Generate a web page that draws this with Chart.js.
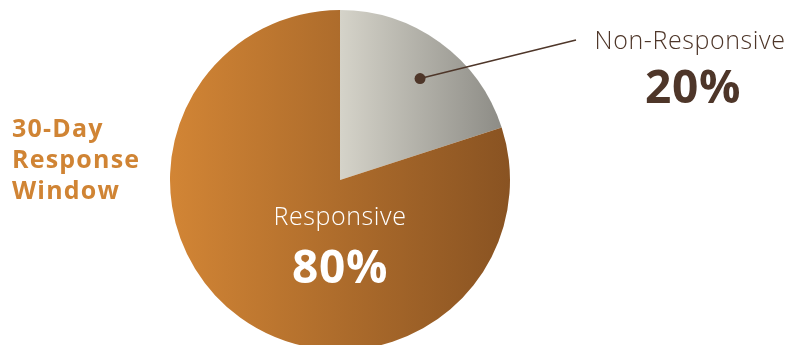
<!DOCTYPE html>
<html>
<head>
<meta charset="utf-8">
<script src="https://cdn.jsdelivr.net/npm/chart.js@4/dist/chart.umd.min.js"></script>
<style>
  html, body { margin: 0; padding: 0; background: #fff; overflow: hidden; }
  #wrap { width: 792px; height: 360px; position: relative; }
</style>
</head>
<body>
<div id="wrap"><canvas id="responseChart"></canvas></div>
<script>
const labels = [ 'Non-Responsive', 'Responsive' ]
const values = [ 20, 80 ]
const titleLines = [ '30-Day', 'Response', 'Window' ]

const brown = '#4e3629'
const orange = '#d08434'

function sliceFill( context ) {
  const chart = context.chart
  const area = chart.chartArea
  if ( !area ) return null
  const ctx = chart.ctx
  const cx = ( area.left + area.right ) / 2
  let g
  if ( context.dataIndex === 0 ) {
    g = ctx.createLinearGradient( cx, 0, area.right - 8, 0 )
    g.addColorStop( 0, '#d5d3c9' )
    g.addColorStop( 1, '#8d8c86' )
  } else {
    g = ctx.createLinearGradient( area.left, 0, area.right, 0 )
    g.addColorStop( 0, '#d28535' )
    g.addColorStop( 1, '#895322' )
  }
  return g
}

const labelPlugin = {
  id: 'pieLabels',
  afterDraw( chart ) {
    const ctx = chart.ctx
    const arcs = chart.getDatasetMeta( 0 ).data
    const a = chart.chartArea
    const cx = ( a.left + a.right ) / 2
    const cy = ( a.top + a.bottom ) / 2
    ctx.save()

    // leader for the small slice
    const small = arcs[ 0 ]
    const mid = ( small.startAngle + small.endAngle ) / 2 + 0.04
    const r = small.outerRadius * 0.76
    const dx = cx + Math.cos( mid ) * r
    const dy = cy + Math.sin( mid ) * r
    ctx.strokeStyle = brown
    ctx.fillStyle = brown
    ctx.lineWidth = 1.5
    ctx.beginPath()
    ctx.moveTo( dx, dy )
    ctx.lineTo( 576, 40 )
    ctx.stroke()
    ctx.beginPath()
    ctx.arc( dx, dy, 5.5, 0, Math.PI * 2 )
    ctx.fill()

    ctx.textAlign = 'center'
    ctx.textBaseline = 'middle'
    ctx.letterSpacing = '0.6px'
    ctx.font = '300 25px "Open Sans"'
    ctx.fillText( labels[ 0 ], 690, 42 )
    ctx.font = 'bold 46px "Open Sans"'
    ctx.fillText( values[ 0 ] + '%', 693, 90 )

    ctx.fillStyle = '#ffffff'
    ctx.font = '300 25px "Open Sans"'
    ctx.fillText( labels[ 1 ], cx, cy + 38 )
    ctx.font = 'bold 46px "Open Sans"'
    ctx.fillText( values[ 1 ] + '%', cx, cy + 90 )

    ctx.textAlign = 'left'
    ctx.fillStyle = orange
    ctx.letterSpacing = '1.2px'
    ctx.font = 'bold 25px "Open Sans"'
    titleLines.forEach( ( line, i ) => {
      ctx.fillText( line, 12, 130 + i * 31 )
    } )
    ctx.restore()
  }
}

new Chart( document.getElementById( 'responseChart' ), {
  type: 'pie',
  data: {
    labels: labels,
    datasets: [ {
      data: values,
      backgroundColor: sliceFill,
      borderWidth: 0
    } ]
  },
  options: {
    responsive: true,
    maintainAspectRatio: false,
    animation: false,
    layout: { padding: { left: 170, right: 282, top: 10, bottom: 10 } },
    plugins: {
      legend: { display: false },
      tooltip: { enabled: false }
    }
  },
  plugins: [ labelPlugin ]
} )
</script>
</body>
</html>
